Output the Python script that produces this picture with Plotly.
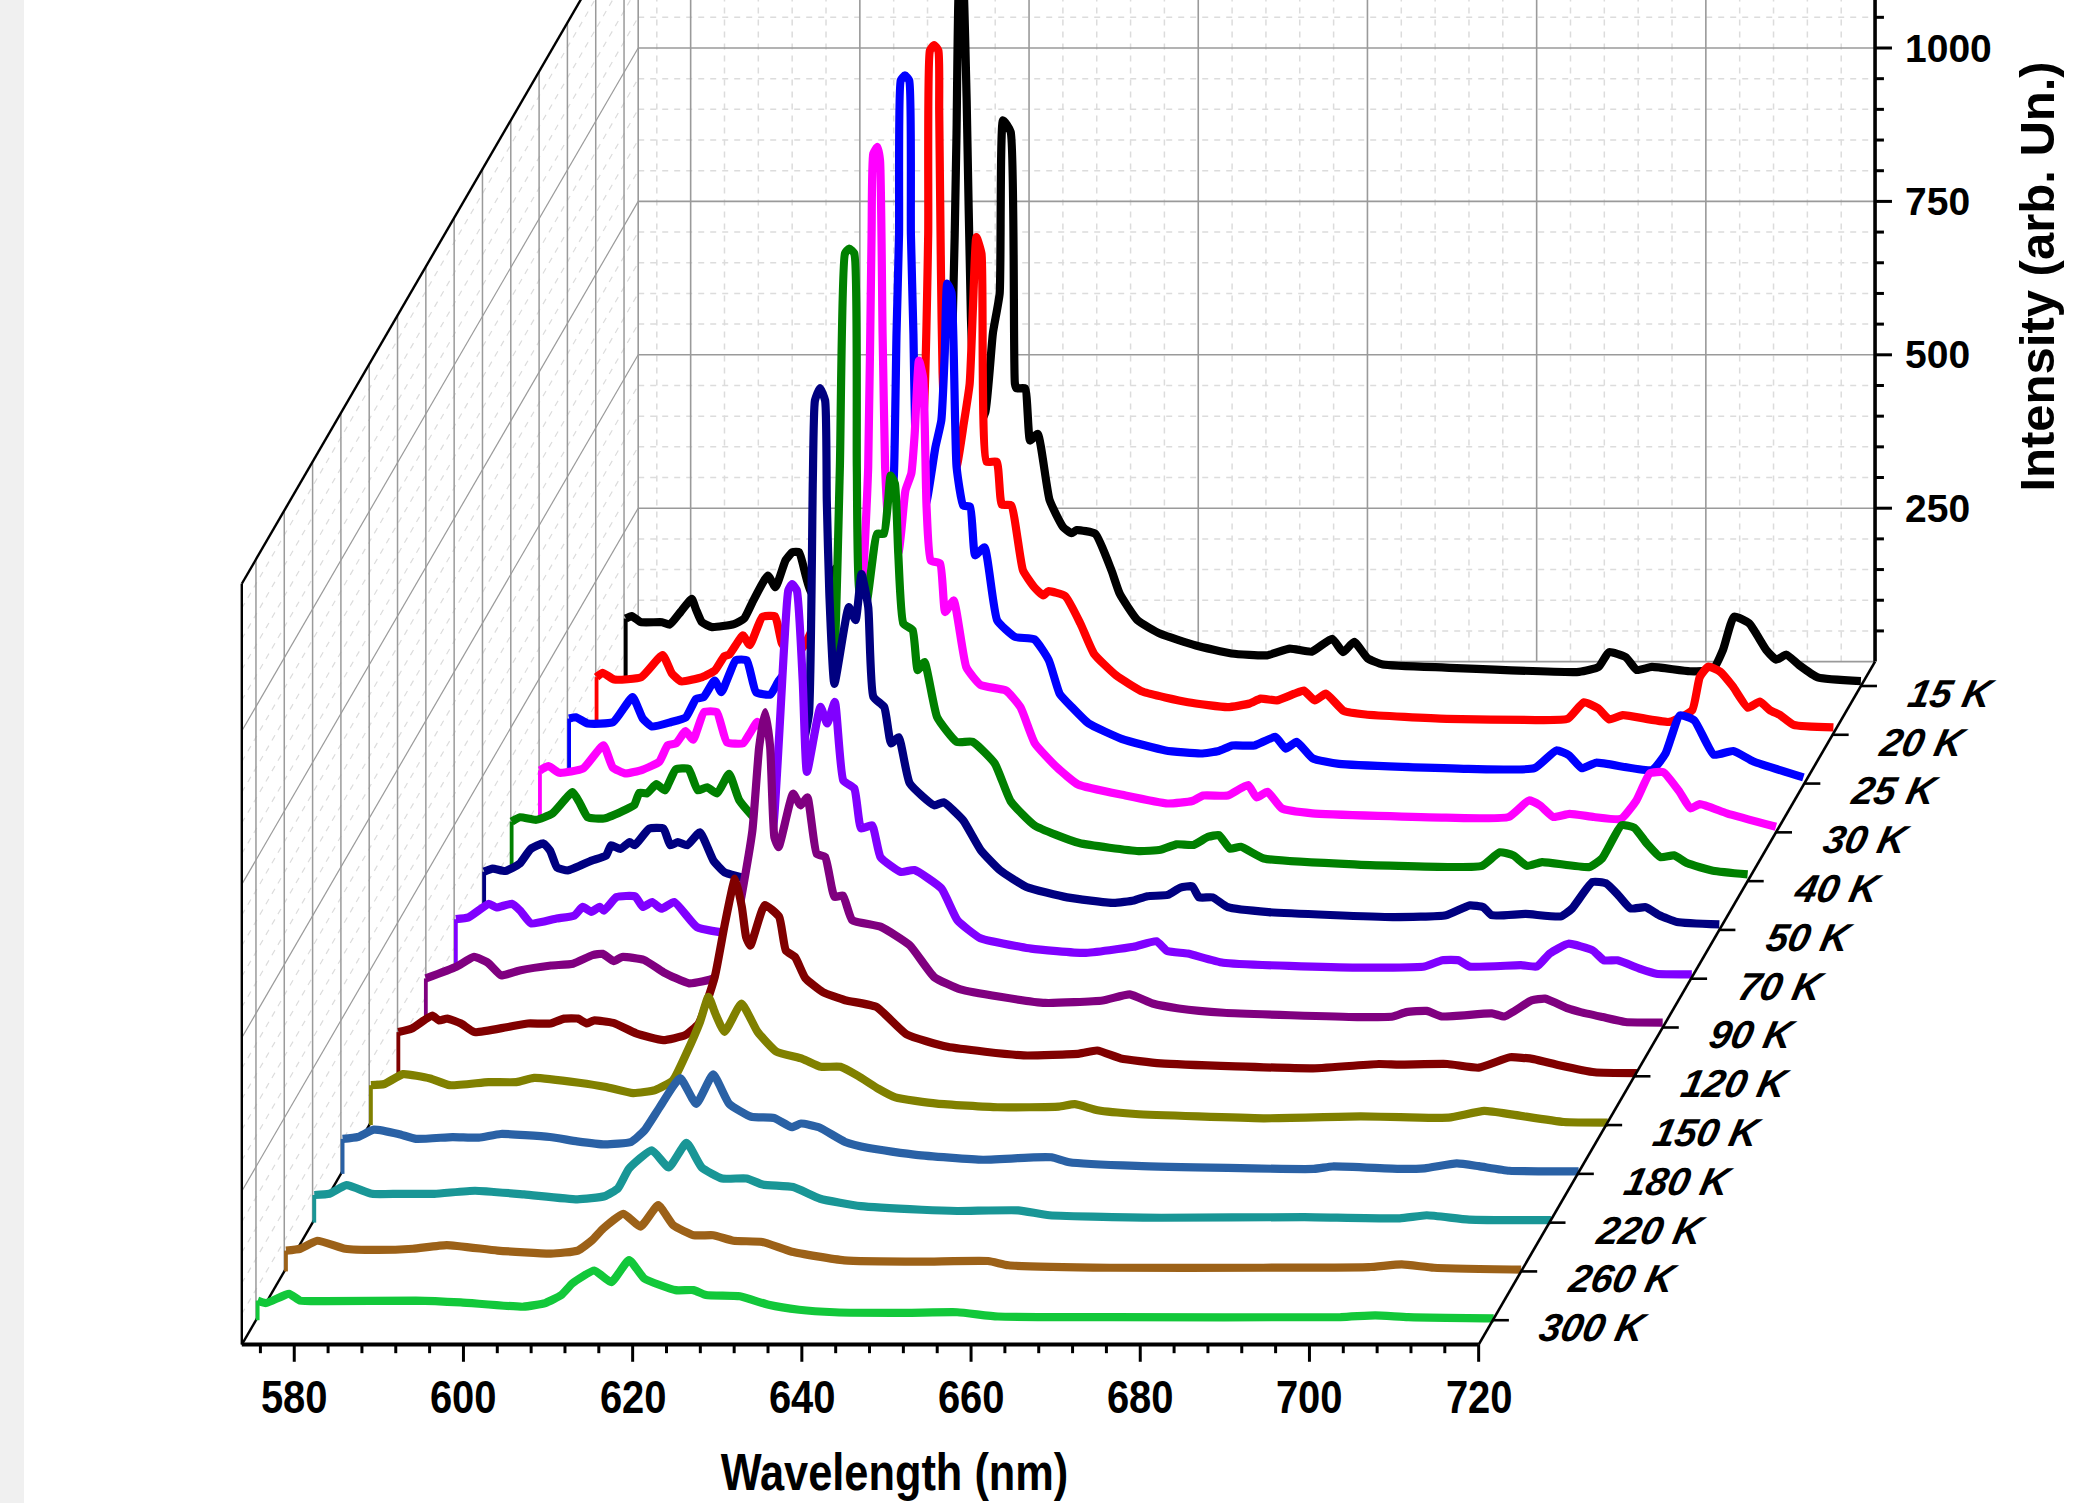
import plotly.graph_objects as go

# ---- data: (wavelength nm, intensity) for every temperature
TEMPS = ["15 K","20 K","25 K","30 K","40 K","50 K","70 K","90 K","120 K","150 K","180 K","220 K","260 K","300 K"]
COLORS = ["#000000","#FF0000","#0000FF","#FF00FF","#008000","#000080","#8000FF","#800080","#800000","#808000","#2A61A5","#199696","#9C6118","#12C83A"]

WL_15 = [574,574.7,575.8,578.3,579.2,580.5,581.8,582.3,583,584.2,586.8,588,589.1,590.8,591.7,592.9,593.7,594.5,595.9,597.7,598.9,601,604,608,610,611.5,612.6,613.1,613.4,613.8,614.3,614.8,615.5,616.5,617.4,618.2,618.6,619.5,620,620.2,621.2,621.8,622.7,624.1,625.7,626.7,627.3,629.5,631.4,632.4,634.5,637.2,641.4,645.6,649.8,652.5,655.1,657.5,658.8,660.1,661.7,663.5,670.9,686.7,689,690.2,692.2,693.5,695.3,699.8,702.5,703.7,705,706.8,708.8,710,711.2,712.7,714.9,720]
I_15 = [110,114,104,104,100,121,142,125,104,96,101,110,140,180,161,205,218,218,153,153,193,140,110,100,150,330,563,900,1150,1175,954,601,420,446,575,640,922,903,493,485,485,400,411,303,259,249,254,248,189,150,107,85,66,53,50,61,56,77,55,72,45,35,30,23,31,55,47,26,31,24,27,59,113,102,59,43,51,34,14,8]
WL_20 = [573.9,574.6,576,579.2,581.7,582.8,583.9,586.4,587.9,589,589.6,591.2,592,593.5,595,595.8,596.5,597.9,598.8,599.5,601,603,606,609,611,612.6,613.1,613.3,613.8,614.3,614.4,614.6,614.8,615.5,616.5,617.3,618,618.4,618.8,619.4,620,621.2,621.8,622.9,624.3,625.6,626.7,627.3,629.3,631.1,632.7,635.3,638.5,643.8,648.5,651.1,652.4,654.3,656.4,657.5,658.8,660.1,662.2,664.8,674.4,684.9,688.7,690.6,692.3,693.6,695.2,700.7,703.4,704.3,705.3,706.7,708.2,710,711.4,712.6,713.8,715.4,720.1]
I_20 = [94,101,90,94,130,100,87,94,105,128,131,162,146,192,193,149,138,136,154,173,130,105,92,110,270,532,817,1115,1124,1115,1018,762,589,410,439,507,572,700,811,784,445,445,375,374,268,241,227,234,226,181,132,97,70,53,45,51,59,56,67,72,56,67,39,33,26,24,26,53,43,25,32,21,40,94,111,103,79,44,54,40,32,16,12]
WL_25 = [574,574.8,576.2,579.2,581.5,582.7,583.8,586,587.8,589,589.9,591.2,592,593.7,595,596.1,597.8,598.8,599.7,601.8,604,607,610,611.5,612.4,612.7,613,613.2,613.7,614.2,614.4,614.7,614.9,615.5,616.3,617.3,618,618.4,618.7,619.2,619.8,620.6,621.4,622,623.1,624.6,626.7,629,630.7,632,633.4,635.4,639.3,644.5,648.7,650.8,652.4,655,657.5,658.7,660,661.9,665,680.3,688.1,690.7,692.2,693.7,695.4,702,703.6,705.3,707,709.3,711.6,714,719.9]
I_25 = [106,108,98,100,141,106,93,100,108,138,141,168,149,201,201,149,145,168,182,111,95,88,130,320,505,733,896,1146,1154,1146,896,733,581,430,462,548,592,700,815,800,516,453,451,372,385,266,239,235,201,146,125,98,73,54,49,53,62,62,76,57,68,41,32,24,25,54,46,25,34,22,49,111,103,47,53,36,10]
WL_30 = [573.9,574.9,576.2,579,581.4,582.5,584,586,588,589,590,591.1,592,593.3,594.8,596,597.9,598.7,599.6,600.5,601.2,602.7,605,608,610,611.2,612.1,612.7,613.1,613.3,613.8,614.1,614.4,614.7,614.9,615.5,616.3,617.1,617.8,618.2,618.7,619.2,619.6,620.1,621.2,621.8,622.8,624.3,626,629,630.7,632.4,635,637.5,643.1,648.1,651,652.3,655.2,657.6,658.6,659.9,661.6,665.2,681,688.4,690.8,692.1,693.7,695.6,698.5,701.7,703.5,705.1,706.7,708.6,709.9,711,714.2,720]
I_30 = [101,108,97,104,142,106,96,102,115,142,145,165,151,196,196,147,145,161,180,158,125,104,92,88,150,300,419,595,976,1106,1117,1095,813,595,536,440,457,557,585,650,769,740,530,443,438,359,378,269,240,231,204,145,106,78,60,47,51,60,60,77,57,66,39,31,24,25,52,44,25,30,25,22,52,96,98,66,39,46,31,9]
WL_40 = [573.9,574.9,576.8,578.7,581.1,582,582.9,584.8,587.6,588.4,589,589.9,591,592,593.3,594.8,595.9,597,598.2,599.6,600.8,602.8,605,608,610,611,612,612.7,613.3,613.8,614.4,614.7,615,615.8,617.1,617.9,618.4,618.7,619.2,619.6,620.2,621.3,621.9,622.7,624.2,626.5,628.4,631,632.9,635.7,641,648,650.6,652.5,654.5,656.2,657.5,658.8,660.1,662.8,673.9,685.4,688.6,690.7,692.3,693.9,695.7,701.3,702.8,705.1,706.6,708.1,709.7,711.3,712.9,715.9,720]
I_40 = [97,104,100,110,145,126,104,102,118,124,144,143,158,148,182,183,148,153,143,175,132,100,88,85,140,240,343,675,1023,1031,1023,675,474,452,566,566,620,661,648,534,420,409,344,357,267,227,227,192,130,91,62,49,51,60,59,72,75,53,56,37,27,23,25,47,42,25,31,23,37,91,87,61,39,42,29,17,11]
WL_50 = [574,575,576.5,578.2,579.5,581,581.8,582.6,583.9,586.7,588.4,589,590.1,591.2,591.8,593.5,595.2,596,596.9,598,599.5,601.1,602.4,605.1,608,610,611.6,612.4,612.85,613.1,613.7,614.3,614.5,614.8,615.4,617.1,617.9,618.6,619.4,620,621.3,622.1,623,624.3,627.2,628.3,630.6,632.7,635,638.1,642.9,648.4,650.8,652.4,654.8,656.3,657.7,658.5,660.1,661.9,666.7,681.4,687.7,690.5,692.1,693.1,697.1,701.3,702.6,705,706.6,708.1,709.5,711.3,712.9,715,720]
I_50 = [95,100,96,108,132,141,129,102,97,113,121,138,132,143,138,165,165,138,143,138,159,113,94,84,80,140,293,353,733,863,883,863,700,548,401,526,505,580,526,380,363,304,314,239,203,208,179,130,97,70,53,44,48,55,57,69,71,53,53,37,29,21,24,40,37,24,26,22,35,78,76,56,35,37,24,13,9]
WL_70 = [574,575.5,577.9,578.8,580.6,581.6,582.9,585.9,588,589,590,591,591.5,593,595.2,596.1,597.2,598.3,599.8,602.5,606.1,609,610.5,611.6,612.8,613.3,613.75,614.3,615,615.5,617.1,617.9,618.8,619.8,621.1,621.9,623.2,624.2,626.6,628.2,631.4,633.3,636,640.7,642,648.3,654.1,656.8,658.1,660.5,664.7,680.6,688.5,690.6,692.5,693.8,699.9,701.8,703.3,705.5,708.4,709.7,711.3,714,715.9,720.1]
I_70 = [97,100,122,116,122,111,90,98,103,117,109,117,111,133,134,117,125,114,125,84,75,90,150,258,540,633,643,633,486,337,443,416,451,323,310,245,250,198,174,177,147,95,66,52,49,42,52,61,45,41,26,18,20,30,30,20,22,20,41,57,46,30,30,16,8,7]
WL_90 = [573.8,577.4,579.5,581.1,582.7,584.9,588.6,591.2,593.5,594.7,596,597,599.6,601.9,604.9,607.9,609.8,611.1,612.4,613.2,613.9,614.5,615,615.5,617.2,618.1,618.9,620,621,622.1,623.1,624.2,627.6,631,633.9,637,641.7,647,653.8,657,659.7,662.8,668.1,683.9,688.1,689.7,692.1,693.9,699.8,701.3,704.5,706.1,708.8,710.3,712.9,715.6,720]
I_90 = [80,99,115,106,85,93,101,104,118,120,108,115,110,90,72,81,120,213,321,457,514,457,310,294,381,362,375,283,278,213,215,175,164,134,82,62,50,40,44,54,39,31,24,17,18,25,27,18,23,18,44,47,31,25,17,9,8]
WL_120 = [573.9,575.5,577.9,578.7,579.7,581.3,582.9,586.7,589.2,591.9,593.5,595.1,596.2,597,599.3,602,605.2,607.8,609.4,611.3,612.5,613.7,614.5,615,615.5,617.2,618.9,619.7,620.8,622,624.1,626.7,630.4,634,638.8,647.8,654.4,656.5,659.3,664,682,689.8,692.2,697.9,701.6,705.3,708.1,711.1,715.3,720.3]
I_120 = [72,78,99,91,94,86,72,80,86,86,94,94,86,91,87,70,59,67,86,162,249,322,276,227,213,279,260,205,194,160,137,124,113,68,48,34,37,42,29,21,13,20,19,20,14,31,28,18,6.5,5]
WL_150 = [574,575.6,577.8,581,583.3,587.9,591.2,593.3,598.6,601.8,605,607.6,609.7,611.3,612.9,613.9,614.7,615.8,617.8,619.7,621.9,625,627.2,629.5,631.6,634,636,640.9,648.1,655.3,657.2,659.9,664.4,679.5,691,695.7,701.4,705.6,709,715,720.2]
I_150 = [65,67,83,76,65,70,70,77,69,62,52,57,73,117,168,209,182,152,198,152,120,108,95,95,80,59,45,35,29,30,34,24,18,11,14,13,12,23,17,5,4]
WL_180 = [574,575.8,577.7,580.6,582.7,587,590.1,592.7,598.5,601.7,605,608.1,609.7,611.5,613.9,615.8,617.8,619.7,622.3,625,627.1,628.2,630.3,633.4,636.2,641.8,649.7,655.7,657.8,659.9,667.8,688.8,691,699,701.9,705.7,708.3,711.9,720.1]
I_180 = [57,60,72,65,57,60,59,65,60,53,48,52,71,109,156,114,162,114,93,91,76,82,76,52,42,31,23,27,27,19,13,8,12,8,9,17,12.5,5,4]
WL_220 = [574,575.8,577.8,580.8,584,588.2,593,598.8,605.1,608.3,609.9,611.2,613.9,615.9,618,619.8,622.2,625.1,627,630.6,633.8,638.6,645.8,650,657.2,660.9,674.1,691,702.3,705.5,710.5,720.2]
I_220 = [45,47,61,47,47,47,52,46,38,43,56,88,118,90,130,90,72,72,62,58,39,27,21,19,20,12,8,9,7,12,5,4]
WL_260 = [574,575.7,577.7,581,584.7,589,593,599,605.3,608.5,610.2,611.5,613.9,615.9,618,619.8,622.2,624.5,626.9,630.3,633.8,640,649,657,659.4,671.4,689.5,702,705.9,709.7,720]
I_260 = [34,37,50,37,35,37,43,34,29,34,51,70,94,73,108,75,59,59,50,48,32,18,16,17,10,6,6,7,11.5,6,3]
WL_300 = [574,575,577.7,579,582,592.7,598,605.4,608,609.9,611.2,613.8,615.8,617.9,619.7,623.4,625.5,627,631,634.4,638,642.2,650.6,656.7,661.5,674.7,702,706.1,710,720.1]
I_300 = [32,28,43,32,31,32,29,22,28,41,60,81,62,98,68,49,49,41,39,25,17,13,12,13,6,5,5,8,5,3]

WAVELENGTHS = [WL_15,WL_20,WL_25,WL_30,WL_40,WL_50,WL_70,WL_90,WL_120,WL_150,WL_180,WL_220,WL_260,WL_300]
INTENSITIES = [I_15,I_20,I_25,I_30,I_40,I_50,I_70,I_90,I_120,I_150,I_180,I_220,I_260,I_300]

X_TICKS = [580,600,620,640,660,680,700,720]
Z_TICKS = [250,500,750,1000]

# ---- oblique projection: depth d = 0 at the front edge, 1 at the back wall
WL_MIN, WL_MAX, Z_TOP = 573.8, 720.0, 1240.0
PX_NM, PX_UNIT = 8.46, 0.6136
DX, DY = 396.4 / PX_NM, 683.0 / PX_UNIT
W, H = 2083, 1503
X_LEFT = WL_MIN - 241.8 / PX_NM
Y_BOTTOM = -(H - 1344.6) / PX_UNIT

def px(wl, d): return wl + d * DX
def py(z, d): return z + d * DY
N = len(TEMPS)
def depth(i): return (N - 1 - i + 0.5) / N

fig = go.Figure()

def segs(pairs, color, width, dash="solid"):
    xs, ys = [], []
    for (w0, z0, d0), (w1, z1, d1) in pairs:
        xs += [px(w0, d0), px(w1, d1), None]
        ys += [py(z0, d0), py(z1, d1), None]
    fig.add_trace(go.Scatter(x=xs, y=ys, mode="lines", hoverinfo="skip", showlegend=False,
                             line=dict(color=color, width=width, dash=dash)))

GRID, GRID_L = "#9a9a9a", "#dcdcdc"
TOP_BACK = 1300.0
minor_z = [z for z in range(50, 1300, 50) if z % 250]
minor_x = [w for w in range(576, 720, 4) if w % 20]
major_x = [w for w in X_TICKS if w < 720]

# back wall and left wall: light dashed grid
segs([((w, 0, 1), (w, TOP_BACK, 1)) for w in minor_x] +
     [((WL_MIN, z, 1), (WL_MAX, z, 1)) for z in minor_z], GRID_L, 1.5, "6px,6px")
segs([((WL_MIN, z, 0), (WL_MIN, z, 1)) for z in minor_z if z < Z_TOP], GRID_L, 1.2, "6px,6px")
# major grid
segs([((w, 0, 1), (w, TOP_BACK, 1)) for w in major_x + [WL_MIN]] +
     [((WL_MIN, z, 1), (WL_MAX, z, 1)) for z in Z_TICKS + [0]], GRID, 1.6)
segs([((WL_MIN, z, 0), (WL_MIN, z, 1)) for z in Z_TICKS], GRID, 1.2)
segs([((WL_MIN, 0, depth(i)), (WL_MIN, Z_TOP, depth(i))) for i in range(N)], GRID, 1.5)
# left wall black edges
segs([((WL_MIN, 0, 0), (WL_MIN, Z_TOP, 0)), ((WL_MIN, Z_TOP, 0), (WL_MIN, Z_TOP, 1)),
      ((WL_MIN, 0, 0), (WL_MIN, 0, 1))], "#000000", 2.4)

# spectra, back to front: white fill hides what is behind
for i in range(N):
    d = depth(i)
    wl, z, c = WAVELENGTHS[i], INTENSITIES[i], COLORS[i]
    fx = [px(w, d) for w in wl]
    fy = [py(v, d) for v in z]
    bx, by = px(wl[0], d), py(0, d)
    ex, ey = px(wl[-1], d), py(0, d)
    fig.add_trace(go.Scatter(x=[bx] + fx + [ex, bx], y=[by] + fy + [ey, by], mode="lines",
                             fill="toself", fillcolor="#ffffff", line=dict(width=0, color="#ffffff"),
                             hoverinfo="skip", showlegend=False))
    fig.add_trace(go.Scatter(x=[bx, fx[0]], y=[by, fy[0]], mode="lines", hoverinfo="skip", showlegend=False,
                             line=dict(color=c, width=3.8)))
    fig.add_trace(go.Scatter(x=fx, y=fy, mode="lines", hoverinfo="skip", showlegend=False,
                             line=dict(color=c, width=8.2, shape="spline", smoothing=0.45)))

# axes on top
segs([((WL_MIN, 0, 0), (WL_MAX, 0, 0))], "#000000", 4)
segs([((w, 0, 0), (w, -28, 0)) for w in X_TICKS], "#000000", 3)
segs([((w, 0, 0), (w, -14, 0)) for w in range(576, 720, 4) if w % 20], "#000000", 3)
segs([((WL_MAX, 0, 0), (WL_MAX, 0, 1))], "#000000", 2.6)
segs([((WL_MAX, 0, depth(i)), (WL_MAX + 1.9, 0, depth(i))) for i in range(N)], "#000000", 2.6)
segs([((WL_MAX, 0, 1), (WL_MAX, TOP_BACK, 1))], "#000000", 3.6)
segs([((WL_MAX, z, 1), (WL_MAX + 2.0, z, 1)) for z in Z_TICKS], "#000000", 3)
segs([((WL_MAX, z, 1), (WL_MAX + 1.05, z, 1)) for z in minor_z], "#000000", 3)

anns = []
SANS = "Liberation Sans"
BOLD = dict(family=SANS, color="#000", weight="bold")
for w in X_TICKS:
    anns.append(dict(x=px(w, 0), y=-84, text=str(w), xanchor="center", yanchor="middle",
                     font=dict(size=47, **BOLD)))
anns.append(dict(x=px(651.0, 0), y=-207, text="Wavelength (nm)", xanchor="center", yanchor="middle",
                 font=dict(size=52, **BOLD)))
for z in Z_TICKS:
    anns.append(dict(x=px(WL_MAX + 3.3, 1), y=py(z, 1), text=str(z), xanchor="left", yanchor="middle",
                     font=dict(size=39, **BOLD)))
anns.append(dict(x=px(WL_MAX + 19.1, 1), y=py(627, 1), text="Intensity (arb. Un.)", textangle=-90,
                 xanchor="center", yanchor="middle", font=dict(size=49, **BOLD)))
for i, t in enumerate(TEMPS):
    anns.append(dict(x=px(WL_MAX + 5.4, depth(i)), y=py(-12, depth(i)), text=t,
                     xanchor="left", yanchor="middle", font=dict(size=39, style="italic", **BOLD)))
for a in anns:
    a.update(xref="x", yref="y", showarrow=False)

fig.update_layout(
    width=W, height=H, margin=dict(l=0, r=0, t=0, b=0, pad=0), autosize=False,
    paper_bgcolor="#ffffff", plot_bgcolor="#ffffff", showlegend=False, annotations=anns,
    xaxis=dict(visible=False, range=[X_LEFT, X_LEFT + W / PX_NM], fixedrange=True),
    yaxis=dict(visible=False, range=[Y_BOTTOM, Y_BOTTOM + H / PX_UNIT], fixedrange=True),
    shapes=[dict(type="rect", xref="paper", yref="paper", x0=0, x1=24 / W, y0=0, y1=1,
                 fillcolor="#f0f0f0", line=dict(width=0), layer="below")],
)
# narrow the axis texts and shear the temperature labels, as the reference draws them
POST = """
document.body.style.margin='0';document.body.style.overflow='hidden';
document.querySelectorAll('text.annotation-text').forEach(function(t){
  var s=t.textContent, b=t.getBBox(), cx=b.x+b.width/2, cy=b.y+b.height/2, m=null;
  if(/K$/.test(s)) m='translate('+cx+','+cy+') skewX(-12) translate('+(-cx)+','+(-cy)+')';
  else if(/^(580|600|620|640|660|680|700|720)$/.test(s)) m='translate('+cx+',0) scale(0.85,1) translate('+(-cx)+',0)';
  else if(/^Wavelength/.test(s)) m='translate('+cx+',0) scale(0.834,1) translate('+(-cx)+',0)';
  if(m) t.setAttribute('transform',m);
});
"""
fig.write_html("out.html", config=dict(displayModeBar=False), post_script=POST)
